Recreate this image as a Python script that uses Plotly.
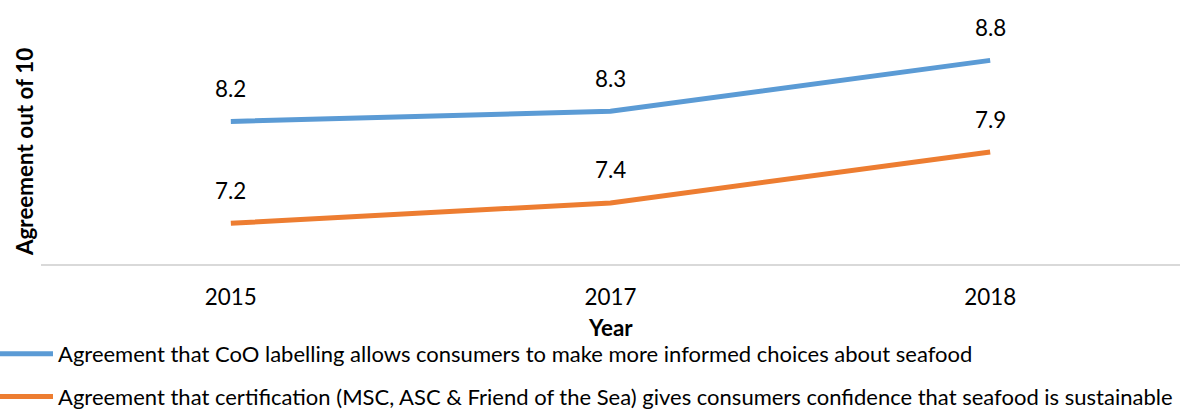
import plotly.graph_objects as go

years = ["2015", "2017", "2018"]
coo_labelling = [8.2, 8.3, 8.8]
certification = [7.2, 7.4, 7.9]
series_names = [
    "Agreement that CoO labelling allows consumers to make more informed choices about seafood",
    "Agreement that certification (MSC, ASC & Friend of the Sea) gives consumers confidence that seafood is sustainable",
]
colors = ["#5B9BD5", "#ED7D31"]

FONT = "Lato"
FS = 22.4
LEG_FS = 22
W, H = 1190, 412
ML, MR, MT, MB = 41, 10, 40, 148
PH = H - MT - MB
PW = W - ML - MR

fig = go.Figure()
for i, (name, vals) in enumerate(zip(series_names, [coo_labelling, certification])):
    fig.add_trace(go.Scatter(
        x=years, y=vals, name=name, mode="lines",
        line=dict(color=colors[i], width=5),
        legendgroup=f"g{i}",
        hoverinfo="skip",
    ))
    # value labels above each point (category index positions on the x axis)
    for j, v in enumerate(vals):
        fig.add_annotation(
            x=j, y=v, xref="x", yref="y", text=f"{v:.1f}",
            showarrow=False, yshift=33,
            font=dict(family=FONT, size=FS, color="#000000"),
        )

# y-axis title
fig.add_annotation(
    xref="paper", yref="paper", x=(24 - ML) / PW, y=0.5,
    text="<b>Agreement out of 10</b>", textangle=-90, showarrow=False,
    xanchor="center", yanchor="middle",
    font=dict(family=FONT, size=FS, color="#000000"),
)
# x-axis title
fig.add_annotation(
    xref="paper", yref="paper", x=0.5, y=-(327 - (MT + PH)) / PH,
    text="<b>Year</b>", showarrow=False,
    xanchor="center", yanchor="middle",
    font=dict(family=FONT, size=FS, color="#000000"),
)

fig.update_layout(
    width=W, height=H,
    margin=dict(l=ML, r=MR, t=MT, b=MB, autoexpand=False),
    paper_bgcolor="white", plot_bgcolor="white",
    font=dict(family=FONT, size=FS, color="#000000"),
    showlegend=True,
    legend=dict(
        x=(-6 - ML) / PW, y=-(333 - (MT + PH)) / PH,
        xanchor="left", yanchor="top",
        orientation="v", traceorder="grouped", tracegroupgap=11,
        itemwidth=54,
        font=dict(family=FONT, size=LEG_FS, color="#000000"),
        bgcolor="rgba(0,0,0,0)",
    ),
    xaxis=dict(
        type="category", range=[-0.5, 2.5],
        showline=True, linecolor="#D9D9D9", linewidth=1.5,
        showgrid=False, ticks="", zeroline=False,
        tickfont=dict(family=FONT, size=FS, color="#000000"),
        ticklabelstandoff=12,
    ),
    yaxis=dict(
        range=[6.8, 9.0], visible=False, showgrid=False, zeroline=False,
    ),
)

fig.write_html("out.html")
